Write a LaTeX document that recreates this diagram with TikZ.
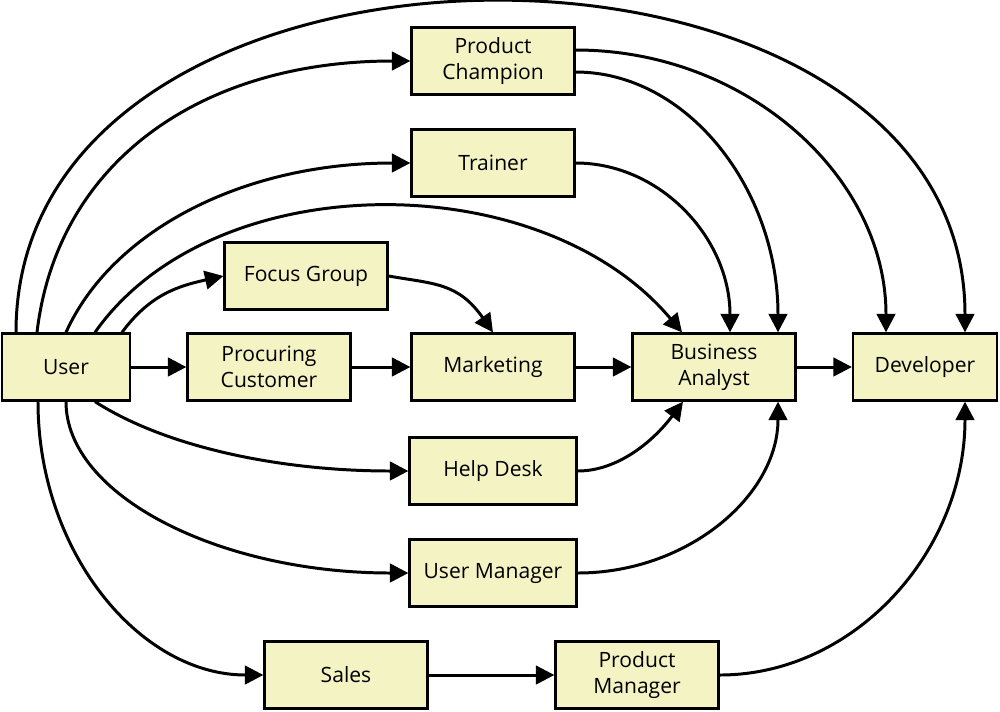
\documentclass[tikz,border=0pt]{standalone}
\usepackage{fontspec}
\setmainfont{Open Sans}
\usetikzlibrary{calc,arrows.meta}
\definecolor{boxfill}{RGB}{243,243,196}

\begin{document}
\begin{tikzpicture}[x=0.02cm, y=-0.02cm,
		role/.style={draw=black, line width=1.3pt, fill=boxfill, align=center,
			minimum width=3.26cm, minimum height=1.34cm, inner sep=0pt,
			font=\fontsize{12}{14.7}\selectfont},
		link/.style={line width=1.7pt, -{Triangle[length=10.5pt, width=10.5pt]}}]
			%%%%% START %%%%%
			\useasboundingbox (0,0) rectangle (1000,711);
			
			% main row
			\node[role, minimum width=2.56cm] (user) at (66,367) {User};
			\node[role] (procuring) at (269,367) {Procuring\\Customer};
			\node[role] (marketing) at (493,367) {Marketing};
			\node[role] (analyst) at (714,367) {Business\\Analyst};
			\node[role, minimum width=2.88cm] (developer) at (925,367) {Developer};
			
			% above
			\node[role] (champion) at (493,61) {Product\\Champion};
			\node[role] (trainer) at (493,163) {Trainer};
			\node[role] (focus) at (306,276) {Focus Group};
			
			% below
			\node[role, minimum width=3.34cm] (helpdesk) at (493,471) {Help Desk};
			\node[role, minimum width=3.34cm] (usermgr) at (493,573) {User Manager};
			\node[role] (sales) at (346,675) {Sales};
			\node[role] (prodmgr) at (637,675) {Product\\Manager};
			
			\draw[link] (user) -- (procuring);
			\draw[link] (procuring) -- (marketing);
			\draw[link] (marketing) -- (analyst);
			\draw[link] (analyst) -- (developer);
			\draw[link] (sales) -- (prodmgr);
			
			% out of the top of user
			\draw[link] ($(user.north)+(-50,0)$) .. controls +(0,-440) and +(0,-440) .. ($(developer.north)+(40,0)$);
			\draw[link] ($(user.north)+(-29,0)$) .. controls +(20,-170) and +(-210,0) .. (champion.west);
			\draw[link] (user.north) .. controls +(45,-100) and +(-170,0) .. (trainer.west);
			\draw[link] ($(user.north)+(29,0)$) .. controls +(118,-168) and +(-141,-168) .. ($(analyst.north)+(-32,0)$);
			\draw[link] ($(user.north)+(56,0)$) .. controls +(28,-38) and +(-45,10) .. (focus.west);
			
			\draw[link] (focus.east) .. controls +(45,8) and +(-35,-50) .. (marketing.north);
			\draw[link] ($(champion.east)+(0,-11)$) .. controls +(171,0) and +(0,-156) .. ($(developer.north)+(-39,0)$);
			\draw[link] ($(champion.east)+(0,11)$) .. controls +(112,0) and +(0,-143) .. ($(analyst.north)+(64,0)$);
			\draw[link] (trainer.east) .. controls +(85,0) and +(0,-94) .. ($(analyst.north)+(16,0)$);
			
			% out of the bottom of user
			\draw[link] ($(user.south)+(29,0)$) .. controls +(70,45) and +(-130,0) .. (helpdesk.west);
			\draw[link] (user.south) .. controls +(0,94) and +(-189,0) .. (usermgr.west);
			\draw[link] ($(user.south)+(-28,0)$) .. controls +(0,150) and +(-124,0) .. (sales.west);
			
			\draw[link] (helpdesk.east) .. controls +(40,0) and +(-30,40) .. ($(analyst.south)+(-31,0)$);
			\draw[link] (usermgr.east) .. controls +(110,0) and +(0,94) .. ($(analyst.south)+(64,0)$);
			\draw[link] (prodmgr.east) .. controls +(135,0) and +(0,150) .. ($(developer.south)+(40,0)$);
			%%%%% END %%%%%
\end{tikzpicture}
\end{document}
